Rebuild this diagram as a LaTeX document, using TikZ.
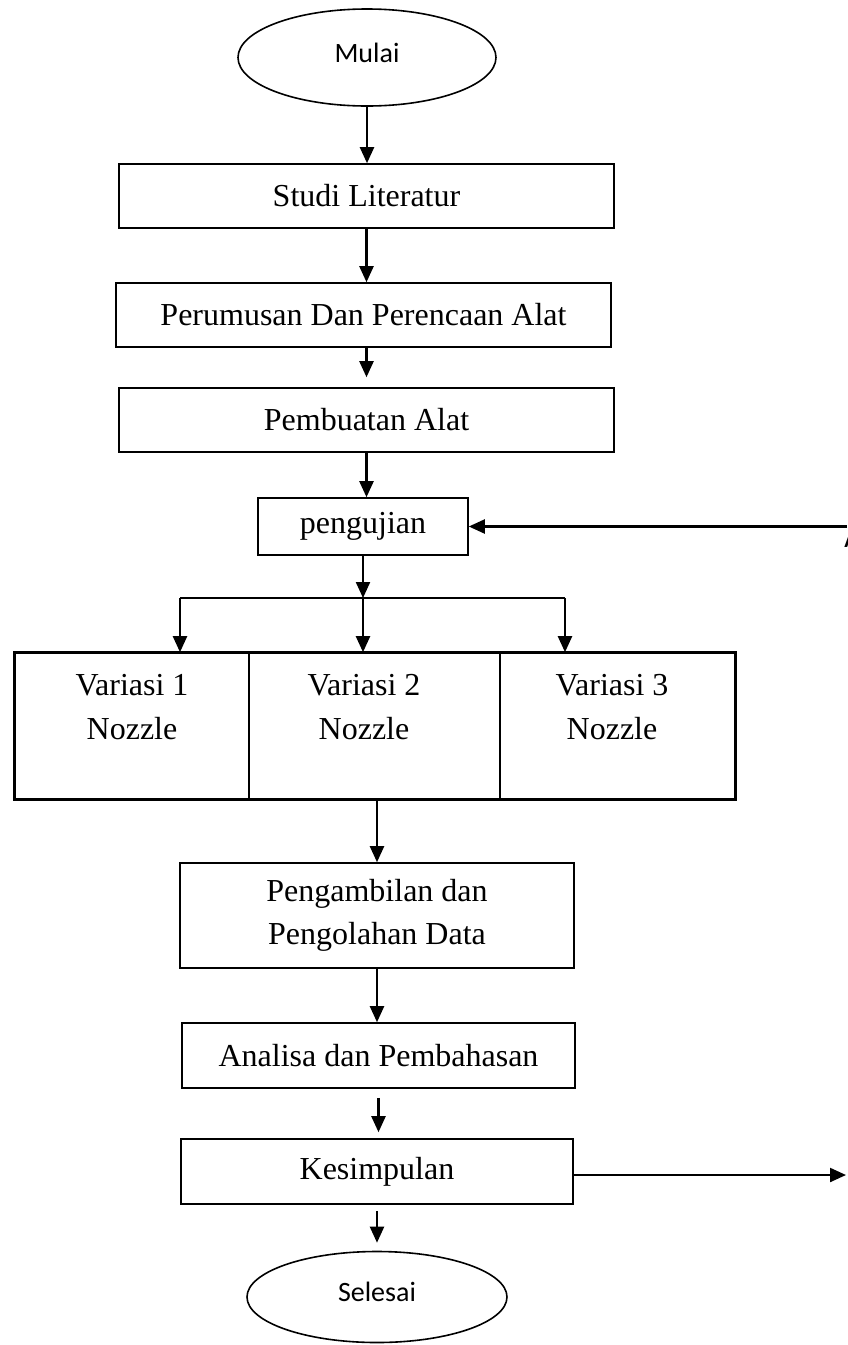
\documentclass[tikz,border=0pt]{standalone}
\usepackage{fontspec}
\setmainfont{Liberation Serif}
\newfontfamily\calibrifont{Carlito}
\usetikzlibrary{shapes.geometric,arrows.meta}
\tikzset{
  box/.style={draw, line width=0.8pt, rectangle, inner sep=0pt, font=\fontsize{16}{21.5}\selectfont, align=center},
  oval/.style={draw, line width=0.8pt, ellipse, inner sep=0pt, font=\calibrifont\fontsize{14}{16}\selectfont, text depth=5pt},
  arr/.style={line width=1.1pt, -{Triangle[length=8pt,width=7pt]}},
  plain/.style={line width=1.1pt},
  txt/.style={font=\fontsize{16}{22}\selectfont, align=center, inner sep=0pt}
}
\begin{document}
\begin{tikzpicture}[x=0.5pt,y=-0.5pt]
\useasboundingbox[fill=white] (0,0) rectangle (847,1345);

\node[oval, minimum width=129pt, minimum height=48.5pt] (mulai) at (367,57.5) {Mulai};
\node[box, minimum width=247.5pt, minimum height=32pt] (studi) at (366.5,196) {Studi Literatur};
\node[box, minimum width=247.5pt, minimum height=32pt] (rumus) at (363.5,315) {Perumusan Dan Perencaan Alat};
\node[box, minimum width=247.5pt, minimum height=32pt] (buat) at (366.5,420) {Pembuatan Alat};
\node[box, minimum width=105pt, minimum height=28.5pt] (uji) at (363,526.5) {pengujian};

\node[box, minimum width=117pt, minimum height=73pt] (v1) at (132,726) {};
\node[box, minimum width=125.5pt, minimum height=73pt] (v2) at (374.5,726) {};
\node[box, minimum width=117.5pt, minimum height=73pt] (v3) at (617.5,726) {};
\draw[line width=1.2pt] (v1.north west) rectangle (v3.south east);
\node[txt] (v1t) at (132,707) {Variasi 1\\Nozzle};
\node[txt] (v2t) at (364,707) {Variasi 2\\Nozzle};
\node[txt] (v3t) at (612,707) {Variasi 3\\Nozzle};

\node[box, minimum width=197pt, minimum height=52.5pt] (ambil) at (377,915.5) {Pengambilan dan\\Pengolahan Data};
\node[box, minimum width=196.5pt, minimum height=32.5pt] (analisa) at (378.5,1055.5) {Analisa dan Pembahasan};
\node[box, minimum width=196pt, minimum height=32.5pt] (simpul) at (377,1171.5) {Kesimpulan};
\node[oval, minimum width=130pt, minimum height=45.5pt] (selesai) at (377,1297) {Selesai};

\coordinate (bl) at (180,598);
\coordinate (brr) at (565,598);
\coordinate (fa) at (847,526.5);
\coordinate (fk) at (846,1175);
\node[font=\calibrifont\bfseries\fontsize{11}{12}\selectfont, inner sep=0pt] (lblA) at (851,540) {A};

\draw[arr] (mulai.south) -- (mulai.south |- studi.north);
\draw[arr] (studi.south) -- (studi.south |- rumus.north);
\draw[arr, shorten >=5pt] (rumus.south -| studi.south) -- (buat.north);
\draw[arr] (buat.south) -- (buat.south |- uji.north);
\draw[arr] (fa) -- (uji.east |- fa);
\draw[arr] (uji.south) -- (uji.south |- bl);
\draw[plain] (bl) -- (brr);
\draw[arr] (bl) -- (bl |- v1.north);
\draw[arr] (uji.south |- bl) -- (uji.south |- v2.north);
\draw[arr] (brr) -- (brr |- v3.north);
\draw[arr] (ambil.north |- v2.south) -- (ambil.north);
\draw[arr] (ambil.south) -- (ambil.south |- analisa.north);
\draw[arr, shorten <=4.5pt, shorten >=3pt] (analisa.south) -- (analisa.south |- simpul.north);
\draw[arr] (simpul.east |- fk) -- (fk);
\draw[arr, shorten <=3pt, shorten >=4pt] (simpul.south) -- (simpul.south |- selesai.north);
\end{tikzpicture}
\end{document}
